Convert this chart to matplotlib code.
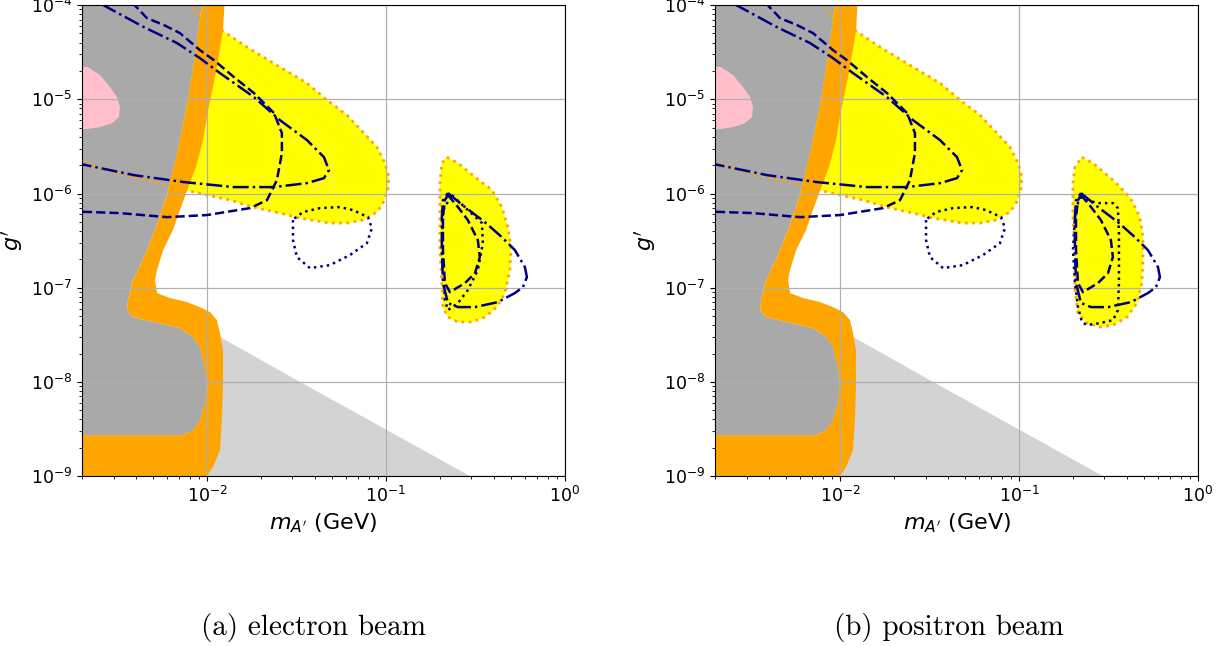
import numpy as np
import matplotlib
matplotlib.use("Agg")
import matplotlib.pyplot as plt

# all contours as (log10 m_A' [GeV], log10 g')

# excluded region (dark grey), left of the orange band
grey_region = [(-2.8, -3.9), (-2.023, -3.9), (-2.062, -4.478), (-2.107, -5.008), (-2.163, -5.539),
               (-2.224, -6.006), (-2.280, -6.335), (-2.336, -6.601), (-2.386, -6.813), (-2.414, -6.919),
               (-2.442, -7.132), (-2.448, -7.238), (-2.414, -7.312), (-2.319, -7.355), (-2.152, -7.429),
               (-2.079, -7.524), (-2.040, -7.631), (-2.012, -7.843), (-2.001, -8.013), (-2.012, -8.225),
               (-2.040, -8.406), (-2.079, -8.512), (-2.135, -8.565), (-2.8, -8.565)]

# orange band, outer edge (top to bottom)
orange_outer = [(-1.900, -3.9), (-1.911, -4.265), (-1.945, -4.658), (-1.967, -4.870), (-1.995, -5.115),
                (-2.023, -5.433), (-2.062, -5.720), (-2.107, -5.943), (-2.152, -6.176), (-2.191, -6.389),
                (-2.246, -6.601), (-2.280, -6.813), (-2.291, -6.919), (-2.280, -7.057), (-2.207, -7.110),
                (-2.112, -7.153), (-2.040, -7.206), (-1.984, -7.259), (-1.945, -7.344), (-1.928, -7.482),
                (-1.911, -7.662), (-1.911, -8.013), (-1.917, -8.374), (-1.928, -8.724), (-1.967, -8.904),
                (-2.001, -9.0), (-2.01, -9.1), (-2.8, -9.1), (-2.8, -8.565)]

pink_region = [(-2.8, -4.637), (-2.665, -4.658), (-2.598, -4.743), (-2.543, -4.870), (-2.503, -4.977),
               (-2.487, -5.083), (-2.492, -5.189), (-2.531, -5.253), (-2.598, -5.295), (-2.671, -5.316),
               (-2.8, -5.316)]

lightgrey_region = [(-2.1, -7.35), (-1.917, -7.535), (-1.481, -8.0), (-0.531, -9.0), (-0.436, -9.1),
                    (-2.1, -9.1)]

# big yellow region boundary (open curve, from top edge to left edge)
yellow_edge = [(-2.105, -3.98), (-2.084, -4.021), (-2.040, -4.127), (-1.984, -4.202), (-1.911, -4.276),
               (-1.777, -4.446), (-1.593, -4.658), (-1.442, -4.828), (-1.330, -5.008), (-1.219, -5.168),
               (-1.129, -5.348), (-1.051, -5.507), (-1.006, -5.677), (-0.984, -5.826), (-0.990, -5.964),
               (-1.017, -6.102), (-1.051, -6.197), (-1.129, -6.282), (-1.219, -6.314), (-1.314, -6.314),
               (-1.481, -6.261), (-1.593, -6.208), (-1.744, -6.144), (-1.872, -6.070), (-2.001, -6.017),
               (-2.118, -5.964), (-2.219, -5.911), (-2.336, -5.858), (-2.526, -5.773), (-2.75, -5.636)]

dashed_main = [(-2.42, -3.97), (-2.336, -4.138), (-2.241, -4.212), (-2.152, -4.297), (-2.040, -4.478),
               (-1.962, -4.584), (-1.850, -4.764), (-1.738, -4.934), (-1.626, -5.146), (-1.582, -5.359),
               (-1.582, -5.571), (-1.610, -5.858), (-1.665, -6.070), (-1.760, -6.155), (-2.001, -6.229),
               (-2.224, -6.251), (-2.487, -6.208), (-2.75, -6.19)]

dashdot_main = [(-2.59, -3.99), (-2.353, -4.234), (-2.168, -4.403), (-2.040, -4.563), (-1.928, -4.722),
                (-1.738, -4.977), (-1.593, -5.221), (-1.442, -5.433), (-1.347, -5.614), (-1.319, -5.752),
                (-1.347, -5.837), (-1.442, -5.890), (-1.626, -5.932), (-1.850, -5.932), (-2.129, -5.879),
                (-2.408, -5.805), (-2.75, -5.67)]

dotted_main = [(-1.520, -6.282), (-1.520, -6.495), (-1.498, -6.675), (-1.425, -6.792), (-1.314, -6.760),
               (-1.202, -6.654), (-1.107, -6.527), (-1.079, -6.367), (-1.101, -6.251), (-1.185, -6.176),
               (-1.258, -6.144), (-1.369, -6.155), (-1.464, -6.197), (-1.509, -6.261), (-1.520, -6.282)]

# high-mass island, electron beam
island_e = [(-0.660, -5.614), (-0.598, -5.677), (-0.503, -5.826), (-0.408, -5.964), (-0.353, -6.144),
            (-0.319, -6.357), (-0.302, -6.569), (-0.308, -6.813), (-0.336, -7.057), (-0.381, -7.206),
            (-0.448, -7.312), (-0.520, -7.365), (-0.598, -7.365), (-0.654, -7.312), (-0.682, -7.206),
            (-0.688, -6.951), (-0.699, -6.601), (-0.699, -6.251), (-0.699, -5.890), (-0.688, -5.677),
            (-0.660, -5.614)]
island_dashdot = [(-0.654, -5.996), (-0.559, -6.144), (-0.448, -6.304), (-0.353, -6.463), (-0.280, -6.601),
                  (-0.224, -6.781), (-0.213, -6.887), (-0.235, -6.994), (-0.280, -7.057), (-0.375, -7.153),
                  (-0.503, -7.206), (-0.598, -7.206), (-0.654, -7.163), (-0.682, -6.951), (-0.688, -6.601),
                  (-0.688, -6.251), (-0.682, -6.070), (-0.654, -5.996)]
island_dashed = [(-0.654, -6.017), (-0.598, -6.144), (-0.543, -6.282), (-0.487, -6.495), (-0.476, -6.675),
                 (-0.503, -6.845), (-0.559, -6.951), (-0.643, -7.047), (-0.671, -6.951), (-0.682, -6.601),
                 (-0.682, -6.251), (-0.671, -6.070), (-0.654, -6.017)]
island_dotted_e = [(-0.632, -6.017), (-0.543, -6.176), (-0.464, -6.314), (-0.459, -6.527), (-0.487, -6.813),
                   (-0.543, -7.025), (-0.598, -7.163), (-0.654, -7.238), (-0.671, -7.132), (-0.688, -6.601),
                   (-0.682, -6.176), (-0.632, -6.017)]

# high-mass island, positron beam
island_p = [(-0.649, -5.614), (-0.587, -5.677), (-0.475, -5.858), (-0.381, -6.038), (-0.325, -6.251),
            (-0.308, -6.463), (-0.308, -6.707), (-0.314, -6.951), (-0.341, -7.163), (-0.397, -7.312),
            (-0.475, -7.397), (-0.548, -7.418), (-0.621, -7.376), (-0.671, -7.270), (-0.688, -7.025),
            (-0.688, -6.601), (-0.699, -6.251), (-0.699, -5.890), (-0.688, -5.720), (-0.649, -5.614)]
island_dotted_p = [(-0.660, -6.038), (-0.565, -6.102), (-0.475, -6.102), (-0.448, -6.155), (-0.442, -6.420),
                   (-0.442, -6.951), (-0.448, -7.238), (-0.475, -7.344), (-0.548, -7.376), (-0.621, -7.397),
                   (-0.649, -7.365), (-0.671, -7.206), (-0.688, -6.951), (-0.699, -6.601), (-0.688, -6.251),
                   (-0.671, -6.102), (-0.660, -6.038)]

captions = ["(a) electron beam", "(b) positron beam"]


def xy(pts):
    a = 10.0 ** np.array(pts)
    return a[:, 0], a[:, 1]


def panel(ax, island, island_dotted):
    ax.set_xscale("log")
    ax.set_yscale("log")
    dots = (0, (1, 1.6))
    yl = grey_region[:1] + [(-2.11, -3.9)] + yellow_edge + [(-2.8, -5.62)]
    ax.fill(*xy(yl), color="yellow", lw=0, zorder=1.0)
    ax.fill(*xy(lightgrey_region), color="lightgrey", lw=0, zorder=1.0)
    ax.fill(*xy(grey_region), color="darkgrey", lw=0, zorder=1.1)
    ax.fill(*xy(pink_region), color="pink", lw=0, zorder=1.2)
    ax.plot(*xy(yellow_edge), color="orange", lw=2, ls=dots, zorder=1.3)
    band = orange_outer + grey_region[::-1][:-1]
    ax.fill(*xy(band), color="orange", lw=0, zorder=1.4)
    ax.fill(*xy(island), color="yellow", lw=0, zorder=1.0)
    ax.plot(*xy(island), color="orange", lw=2, ls=dots, zorder=1.3)

    kw = dict(color="navy", lw=1.8, zorder=2)
    ax.plot(*xy(dashed_main), ls="--", **kw)
    ax.plot(*xy(dashdot_main), ls="-.", **kw)
    ax.plot(*xy(dotted_main), ls=dots, **kw)
    ax.plot(*xy(island_dashed), ls="--", **kw)
    ax.plot(*xy(island_dashdot), ls="-.", **kw)
    ax.plot(*xy(island_dotted), ls=dots, **kw)

    ax.set_xlim(2e-3, 1)
    ax.set_ylim(1e-9, 1e-4)
    ax.grid(True, which="major", color="#b0b0b0", lw=0.9)
    ax.tick_params(labelsize=12.5)
    ax.set_xlabel(r"$m_{A'}$ (GeV)", fontsize=16)
    ax.set_ylabel(r"$g'$", fontsize=16)


fig = plt.figure(figsize=(12.24, 6.46), dpi=100)
ax1 = fig.add_axes([0.067, 0.263, 0.3946, 0.7291])
ax2 = fig.add_axes([0.5842, 0.263, 0.3946, 0.7291])
panel(ax1, island_e, island_dotted_e)
panel(ax2, island_p, island_dotted_p)

fig.text(0.256, 0.0294, captions[0], family="cmr10", fontsize=21, ha="center", va="center")
fig.text(0.775, 0.0294, captions[1], family="cmr10", fontsize=21, ha="center", va="center")

fig.savefig("out.png", dpi=100)
